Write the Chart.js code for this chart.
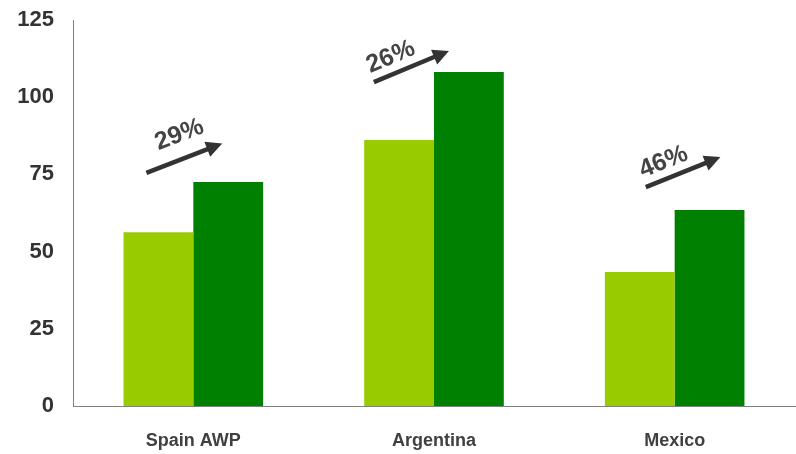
<!DOCTYPE html>
<html>
<head>
<meta charset="utf-8">
<script src="https://cdn.jsdelivr.net/npm/chart.js@4"></script>
<style>
  html, body { margin: 0; padding: 0; background: #fff; }
  #wrap { width: 796px; height: 454px; }
</style>
</head>
<body>
<div id="wrap"><canvas id="chart" width="796" height="454"></canvas></div>
<script>
// data
const categories = ["Spain AWP", "Argentina", "Mexico"];
const before = [56.3, 86.1, 43.4];
const after = [72.5, 108.2, 63.5];
const growthLabels = ["29%", "26%", "46%"];
const yTicks = [0, 25, 50, 75, 100, 125];

const FONT = "'Liberation Sans', Arial, sans-serif";

// growth arrows drawn over each category
const growthArrows = {
  id: "growthArrows",
  afterDatasetsDraw(chart) {
    const ctx = chart.ctx;
    const x = chart.scales.x, y = chart.scales.y;
    // arrow geometry in [category offset, value] units
    const geo = [
      { x0: -0.195, y0: 75.5, x1: 0.12, y1: 85, tx: -0.058, ty: 87.8 },
      { x0: -0.25, y0: 104.9, x1: 0.062, y1: 115, tx: -0.18, ty: 113 },
      { x0: -0.12, y0: 70.9, x1: 0.19, y1: 80.6, tx: -0.046, ty: 79 }
    ];
    geo.forEach((g, i) => {
      const ax = x.getPixelForValue(i + g.x0), ay = y.getPixelForValue(g.y0);
      const bx = x.getPixelForValue(i + g.x1), by = y.getPixelForValue(g.y1);
      const ang = Math.atan2(by - ay, bx - ax);
      const head = 16;
      ctx.save();
      ctx.strokeStyle = "#333333";
      ctx.fillStyle = "#333333";
      ctx.lineWidth = 4.5;
      ctx.beginPath();
      ctx.moveTo(ax, ay);
      ctx.lineTo(bx - Math.cos(ang) * head * 0.8, by - Math.sin(ang) * head * 0.8);
      ctx.stroke();
      ctx.beginPath();
      ctx.moveTo(bx, by);
      ctx.lineTo(bx - head * Math.cos(ang) + 8 * Math.sin(ang), by - head * Math.sin(ang) - 8 * Math.cos(ang));
      ctx.lineTo(bx - head * Math.cos(ang) - 8 * Math.sin(ang), by - head * Math.sin(ang) + 8 * Math.cos(ang));
      ctx.closePath();
      ctx.fill();
      // label
      ctx.translate(x.getPixelForValue(i + g.tx), y.getPixelForValue(g.ty));
      ctx.rotate(ang);
      ctx.fillStyle = "#444444";
      ctx.font = "bold 25px " + FONT;
      ctx.textAlign = "center";
      ctx.textBaseline = "middle";
      ctx.fillText(growthLabels[i], 0, 0);
      ctx.restore();
    });
  }
};

new Chart(document.getElementById("chart"), {
  type: "bar",
  data: {
    labels: categories,
    datasets: [
      { data: before, backgroundColor: "#99cc00", barPercentage: 1, categoryPercentage: 0.58 },
      { data: after, backgroundColor: "#008000", barPercentage: 1, categoryPercentage: 0.58 }
    ]
  },
  options: {
    responsive: false,
    animation: false,
    layout: { padding: { top: 20, right: 1, left: 0, bottom: 0 } },
    plugins: { legend: { display: false }, tooltip: { enabled: false } },
    scales: {
      x: {
        grid: { display: false, drawTicks: false },
        border: { color: "#808080", width: 1 },
        ticks: { color: "#404040", font: { family: FONT, size: 18, weight: "bold" }, padding: 24 },
        afterFit(s) { s.height = 48; }
      },
      y: {
        min: 0,
        max: 125,
        afterBuildTicks(s) { s.ticks = yTicks.map(v => ({ value: v })); },
        grid: { display: false, drawTicks: false },
        border: { color: "#808080", width: 1 },
        ticks: { color: "#333333", font: { family: FONT, size: 22, weight: "bold" }, padding: 19 },
        afterFit(s) { s.width = 73; s.paddingTop = 0; s.paddingBottom = 0; }
      }
    }
  },
  plugins: [growthArrows]
});
</script>
</body>
</html>
